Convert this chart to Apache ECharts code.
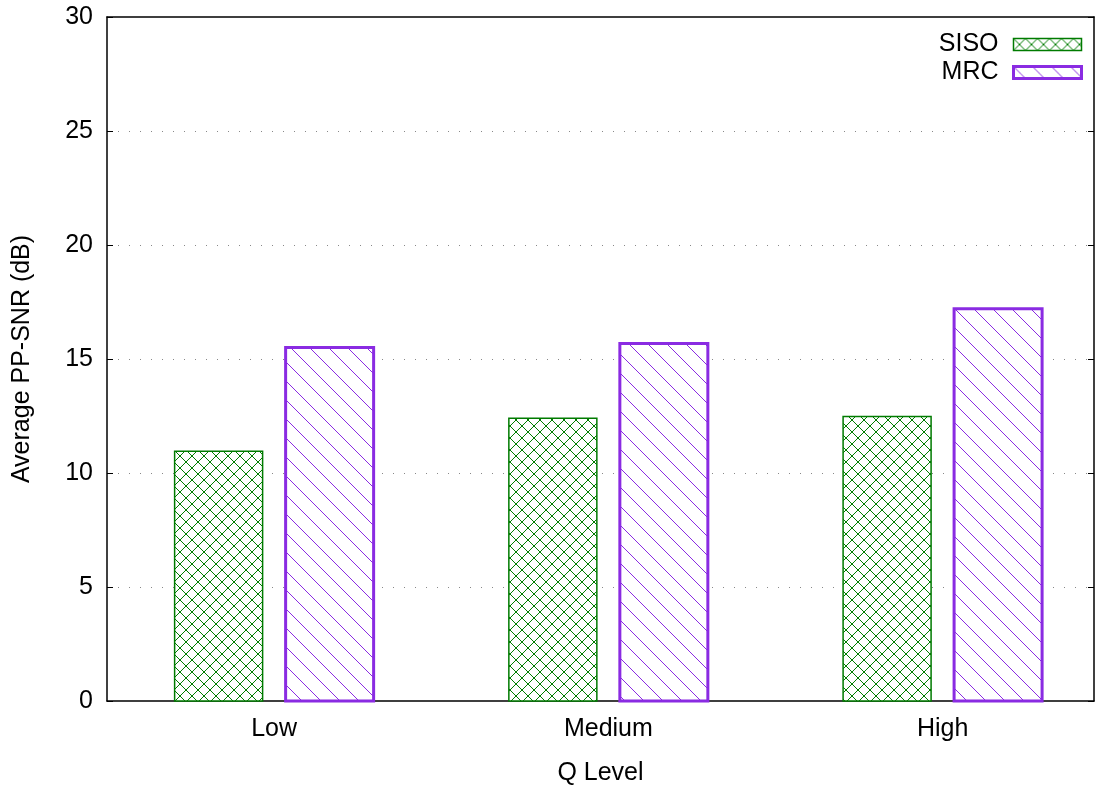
<!DOCTYPE html>
<html><head><meta charset="utf-8">
<script src="https://cdn.jsdelivr.net/npm/echarts@6/dist/echarts.min.js"></script>
<style>html,body{margin:0;padding:0;background:#fff;overflow:hidden;height:100%}#c{width:1102px;height:100vh}</style>
</head><body><div id="c"></div>
<script>
const categories = ['Low', 'Medium', 'High'];
const sisoValues = [10.95, 12.4, 12.48];
const mrcValues = [15.5, 15.68, 17.2];
const yTicks = [0, 5, 10, 15, 20, 25, 30];

const GREEN = '#007b00';
const PURPLE = '#8a2be2';
const BAR_W = 88;
const OFFSET = 55.5;

function crossPattern() {
  const s = 12, c = document.createElement('canvas');
  c.width = s; c.height = s;
  const g = c.getContext('2d');
  g.fillStyle = '#fff'; g.fillRect(0, 0, s, s);
  g.fillStyle = GREEN;
  for (let i = 0; i < s; i++) { g.fillRect(i, i, 1, 1); g.fillRect(s - 1 - i, i, 1, 1); }
  return c;
}
function diagPattern() {
  const s = 19, c = document.createElement('canvas');
  c.width = s; c.height = s;
  const g = c.getContext('2d');
  g.fillStyle = '#fff'; g.fillRect(0, 0, s, s);
  g.fillStyle = PURPLE;
  for (let i = 0; i < s; i++) g.fillRect(i, i, 1, 1);
  return c;
}

function hatch(x0, y0, x1, y1, dir, step, color) {
  const out = [];
  let cmin, cmax;
  if (dir > 0) { cmin = y0 - x1; cmax = y1 - x0; }
  else { cmin = y0 + x0; cmax = y1 + x1; }
  const kStart = Math.ceil(cmin / step), kEnd = Math.floor(cmax / step);
  for (let k = kStart; k <= kEnd; k++) {
    const c = k * step;
    let xa, xb;
    if (dir > 0) { xa = Math.max(x0, y0 - c); xb = Math.min(x1, y1 - c); }
    else { xa = Math.max(x0, c - y1); xb = Math.min(x1, c - y0); }
    if (xb - xa < 0.5) continue;
    const ya = dir > 0 ? xa + c : c - xa;
    const yb = dir > 0 ? xb + c : c - xb;
    out.push({type: 'line', silent: true,
      shape: {x1: xa, y1: ya, x2: xb, y2: yb},
      style: {stroke: color, lineWidth: 1}});
  }
  return out;
}

function makeRender(kind) {
  return function (params, api) {
    const idx = api.value(0), v = api.value(1);
    const base = api.coord([idx, 0]);
    const top = api.coord([idx, v]);
    const cx = base[0] + (kind === 'siso' ? -OFFSET : OFFSET);
    const x0 = cx - BAR_W / 2, x1 = cx + BAR_W / 2;
    const y0 = top[1], y1 = base[1];
    const children = [{type: 'rect', shape: {x: x0, y: y0, width: BAR_W, height: y1 - y0},
      style: {fill: '#fff', stroke: null}}];
    if (kind === 'siso') {
      children.push(...hatch(x0, y0, x1, y1, 1, 12, GREEN));
      children.push(...hatch(x0, y0, x1, y1, -1, 12, GREEN));
      children.push({type: 'rect', shape: {x: x0, y: y0, width: BAR_W, height: y1 - y0},
        style: {fill: null, stroke: GREEN, lineWidth: 1.5}});
    } else {
      children.push(...hatch(x0, y0, x1, y1, 1, 19, PURPLE));
      children.push({type: 'rect', shape: {x: x0, y: y0, width: BAR_W, height: y1 - y0},
        style: {fill: null, stroke: PURPLE, lineWidth: 3}});
    }
    return {type: 'group', children};
  };
}

const el = document.getElementById('c');
const H = el.clientHeight || window.innerHeight || 791;
const AXIS_Y = 704;
const gridBottom = Math.max(0, H - AXIS_Y);

const font = 'Liberation Sans';
const fs = 25;
const txt = {fontFamily: font, fontSize: fs, color: '#000'};
const chart = echarts.init(el, null, {renderer: 'canvas'});
chart.setOption({
  animation: false,
  backgroundColor: '#fff',
  grid: {left: 107, right: 8, top: 17, bottom: gridBottom, containLabel: false},
  legend: {
    orient: 'vertical', right: 14, top: 27, align: 'right',
    itemWidth: 68, itemHeight: 12, itemGap: 3,
    textStyle: Object.assign({padding: [0, 10, 0, 0]}, txt),
    data: [
      {name: 'SISO', icon: 'rect', itemStyle: {color: {image: crossPattern(), repeat: 'repeat'}, borderColor: GREEN, borderWidth: 1.5}},
      {name: 'MRC', icon: 'rect', itemStyle: {color: {image: diagPattern(), repeat: 'repeat'}, borderColor: PURPLE, borderWidth: 3}}
    ]
  },
  xAxis: [{
    type: 'value', min: -0.5, max: 2.453,
    name: 'Q Level', nameLocation: 'middle', nameGap: 60,
    nameTextStyle: txt,
    axisLine: {show: true, onZero: false, lineStyle: {color: '#000', width: 1.5}},
    axisTick: {show: false},
    splitLine: {show: false},
    axisLabel: Object.assign({
      customValues: [0, 1, 2], margin: 16,
      formatter: v => categories[Math.round(v)] || ''
    }, txt)
  }, {
    type: 'value', min: -0.5, max: 2.453, position: 'top',
    axisLine: {show: true, onZero: false, lineStyle: {color: '#000', width: 1.5}},
    axisTick: {show: false}, axisLabel: {show: false}, splitLine: {show: false}
  }],
  yAxis: [{
    type: 'value', min: 0, max: 30, interval: 5,
    name: 'Average PP-SNR (dB)', nameLocation: 'middle', nameGap: 72,
    nameTextStyle: txt,
    axisLine: {show: true, onZero: false, lineStyle: {color: '#000', width: 1.5}},
    axisTick: {show: true, inside: true, length: 6, lineStyle: {color: '#000', width: 1}},
    axisLabel: Object.assign({margin: 14, formatter: v => String(v)}, txt),
    splitLine: {show: true, showMinLine: false, showMaxLine: false,
      lineStyle: {color: '#888', width: 1, type: [1, 10]}}
  }, {
    type: 'value', min: 0, max: 30, interval: 5, position: 'right',
    axisLine: {show: true, onZero: false, lineStyle: {color: '#000', width: 1.5}},
    axisTick: {show: true, inside: true, length: 6, lineStyle: {color: '#000', width: 1}},
    axisLabel: {show: false}, splitLine: {show: false}
  }],
  series: [{
    name: 'SISO', type: 'custom', xAxisIndex: 0, yAxisIndex: 0,
    renderItem: makeRender('siso'), encode: {x: 0, y: 1}, clip: false, z: 3,
    itemStyle: {color: GREEN},
    data: sisoValues.map((v, i) => [i, v])
  }, {
    name: 'MRC', type: 'custom', xAxisIndex: 0, yAxisIndex: 0,
    renderItem: makeRender('mrc'), encode: {x: 0, y: 1}, clip: false, z: 3,
    itemStyle: {color: PURPLE},
    data: mrcValues.map((v, i) => [i, v])
  }]
});
</script></body></html>
